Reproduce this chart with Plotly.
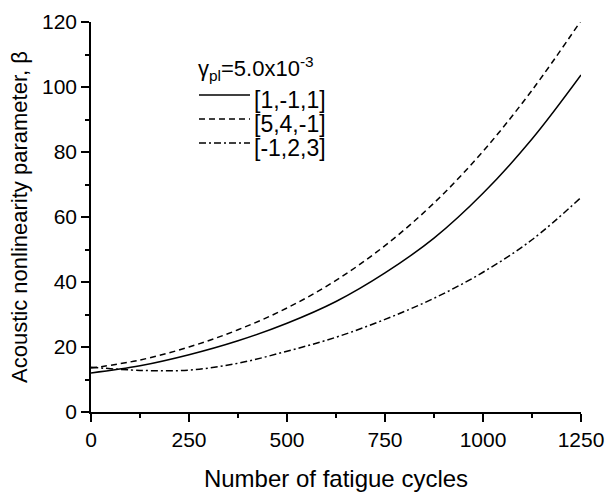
import plotly.graph_objects as go

cycles = [0, 125, 250, 375, 500, 625, 750, 875, 1000, 1125, 1250]
beta_1m11 = [12.0, 14.2, 17.6, 21.9, 27.3, 34.0, 42.8, 53.5, 67.3, 84.0, 103.7]
beta_54m1 = [13.5, 16.0, 20.0, 25.3, 32.0, 40.5, 51.2, 64.3, 80.2, 99.0, 120.4]
beta_m123 = [13.8, 12.8, 12.9, 15.0, 18.7, 23.0, 28.5, 35.0, 43.0, 53.0, 66.0]

series_names = ["[1,-1,1]", "[5,4,-1]", "[-1,2,3]"]
legend_title = "γ<sub>pl</sub>=5.0x10<sup>-3</sup>"
x_ticks = [0, 250, 500, 750, 1000, 1250]
y_ticks = [0, 20, 40, 60, 80, 100, 120]

FONT = "Liberation Sans, Arial, sans-serif"

W, H = 606, 494
L, R, T, B = 91, 25, 22, 82
PW, PH = W - L - R, H - T - B


def px_x(px):  # screen pixel -> paper x
    return (px - L) / PW


def px_y(py):  # screen pixel -> paper y
    return (H - B - py) / PH


fig = go.Figure()
styles = ["solid", "6px,4px", "7px,3px,2px,3px"]
for name, ys, dash in zip(series_names, [beta_1m11, beta_54m1, beta_m123], styles):
    fig.add_trace(go.Scatter(
        x=cycles, y=ys, name=name, mode="lines", showlegend=False,
        line=dict(color="black", width=1.5, dash=dash, shape="spline", smoothing=1.0),
    ))

annotations = [dict(
    x=px_x(196), y=px_y(68), xref="paper", yref="paper", xanchor="left", yanchor="middle",
    text=legend_title, showarrow=False, font=dict(family=FONT, size=22, color="black"),
)]
shapes = []
row_lines = [95, 119, 143]
for name, dash, ly in zip(series_names, styles, row_lines):
    shapes.append(dict(
        type="line", xref="paper", yref="paper",
        x0=px_x(199), x1=px_x(250), y0=px_y(ly), y1=px_y(ly),
        line=dict(color="black", width=1.3, dash=dash),
    ))
    annotations.append(dict(
        x=px_x(252), y=px_y(ly + 5), xref="paper", yref="paper", xanchor="left", yanchor="middle",
        text=name, showarrow=False, font=dict(family=FONT, size=23, color="black"),
    ))

axis_common = dict(
    showline=True, linecolor="black", linewidth=1.5,
    ticks="outside", ticklen=8, tickwidth=1.5, tickcolor="black",
    showgrid=False, zeroline=False, mirror=False, automargin=False,
    tickfont=dict(family=FONT, size=21, color="black"),
)

fig.update_xaxes(
    range=[0, 1250], tickvals=x_ticks,
    minor=dict(ticks="outside", ticklen=4, tickwidth=1.5, tickcolor="black", dtick=125, showgrid=False),
    title=dict(text="Number of fatigue cycles", font=dict(family=FONT, size=24, color="black"), standoff=20),
    **axis_common,
)
fig.update_yaxes(
    range=[0, 120], tickvals=y_ticks,
    minor=dict(ticks="outside", ticklen=4, tickwidth=1.5, tickcolor="black", dtick=10, showgrid=False),
    title=dict(text="Acoustic nonlinearity parameter, β", font=dict(family=FONT, size=22, color="black"), standoff=8),
    **axis_common,
)

fig.update_layout(
    width=W, height=H,
    margin=dict(l=L, r=R, t=T, b=B),
    paper_bgcolor="white", plot_bgcolor="white",
    font=dict(family=FONT, color="black"),
    showlegend=False,
    annotations=annotations,
    shapes=shapes,
)

fig.write_html(
    "out.html",
    config={"displayModeBar": False},
    post_script="document.body.style.margin='0';document.body.style.overflow='hidden';",
)
